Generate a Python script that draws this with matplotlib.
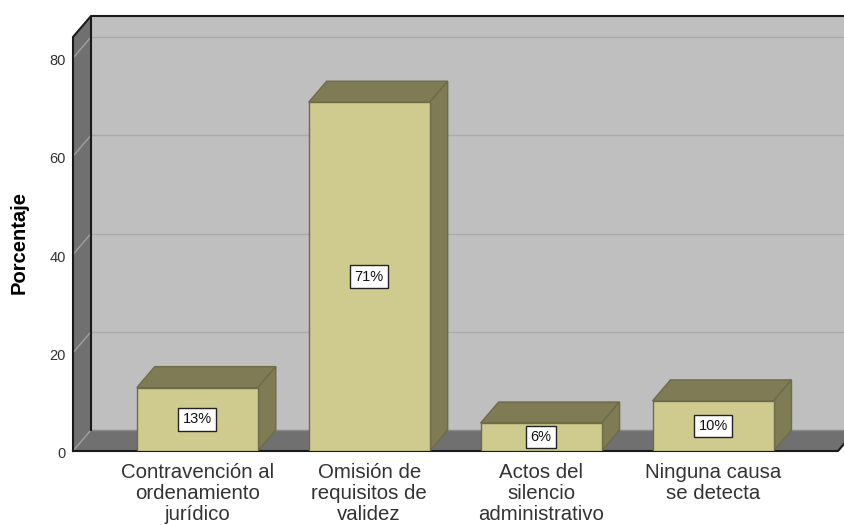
import matplotlib
matplotlib.use("Agg")
import matplotlib.pyplot as plt
from matplotlib.patches import Polygon
from matplotlib.transforms import ScaledTranslation

plt.rcParams['font.family'] = ['Liberation Sans', 'DejaVu Sans']

categories = ["Contravención al\nordenamiento\njurídico", "Omisión de\nrequisitos de\nvalidez",
              "Actos del\nsilencio\nadministrativo", "Ninguna causa\nse detecta"]
values = [12.9, 71.0, 5.7, 10.2]
value_labels = ["13%", "71%", "6%", "10%"]
yticks = [0, 20, 40, 60, 80]
ylabel = "Porcentaje"

W, H = 844, 525
fig = plt.figure(figsize=(W / 100, H / 100), dpi=100, facecolor="white")
L, R, B, T = 73, 844, 451, 16
ax = fig.add_axes([L / W, (H - B) / H, (R - L) / W, (B - T) / H])
px_y = 4.9125
px_x = 171.9
x0 = 197.3
ax.set_xlim((L - x0) / px_x, (R - x0) / px_x)
ax.set_ylim(0, (B - T) / px_y)
dx, dy = 18 / px_x, 21 / px_y
xl = ax.get_xlim()[0]
xr = (838 - x0) / px_x
ytop = (B - 37) / px_y
bw = 121 / px_x

wall, side, floor_c = "#BFBFBF", "#707070", "#707070"
front, shade, edge = "#CFCB8E", "#7F7B55", "#6E6B48"
grid = "#ABABAB"
dark = "#1A1A1A"

# back wall, left wall, floor
ax.add_patch(Polygon([(xl + dx, dy), (xr + dx, dy), (xr + dx, ytop + dy), (xl + dx, ytop + dy)],
                     fc=wall, ec="none", zorder=1))
ax.add_patch(Polygon([(xl, 0), (xl + dx, dy), (xl + dx, ytop + dy), (xl, ytop)],
                     fc=side, ec="none", zorder=1))
ax.add_patch(Polygon([(xl, 0), (xr, 0), (xr + dx, dy), (xl + dx, dy)],
                     fc=floor_c, ec="none", zorder=1))
ax.plot([xl + dx, xr + dx], [dy, dy], color="#8A8A8A", lw=1, zorder=1.5)

# gridlines
for t in yticks[1:]:
    ax.plot([xl + dx, xr + dx], [t + dy, t + dy], color=grid, lw=1, zorder=2)
    ax.plot([xl, xl + dx], [t, t + dy], color="#A0A0A0", lw=1, zorder=2)
ax.plot([xl, xl + dx], [0, dy], color="#A0A0A0", lw=1, zorder=2)

# frame lines
ax.plot([xl, xl, xl + dx, xr + dx], [0, ytop, ytop + dy, ytop + dy], color=dark, lw=1.5, zorder=3, clip_on=False)
ax.plot([xl + dx, xl + dx], [dy, ytop + dy], color=dark, lw=1.5, zorder=3)
ax.plot([xl, xr, xr + dx], [0, 0, dy], color=dark, lw=1.5, zorder=3, clip_on=False)

# bars
xs = list(range(len(values)))
ax.bar(xs, values, width=bw, color=front, edgecolor=edge, linewidth=1, zorder=5)
for x, v, lab in zip(xs, values, value_labels):
    a, b = x - bw / 2, x + bw / 2
    ax.add_patch(Polygon([(a, v), (b, v), (b + dx, v + dy), (a + dx, v + dy)], fc=shade, ec=edge, lw=1, zorder=4))
    ax.add_patch(Polygon([(b, 0), (b + dx, dy), (b + dx, v + dy), (b, v)], fc=shade, ec=edge, lw=1, zorder=4))
    ax.text(x, v / 2, lab, ha="center", va="center", fontsize=10.5, color="#111111", zorder=6,
            bbox=dict(boxstyle="square,pad=0.3", fc="white", ec="#222222", lw=1))

for s in ax.spines.values():
    s.set_visible(False)
ax.patch.set_visible(False)
ax.set_xticks(xs, categories)
ax.set_yticks(yticks)
ax.tick_params(axis="x", length=0, pad=9, labelsize=14.7, labelcolor="#333333")
ax.tick_params(axis="y", length=0, pad=5, labelsize=10.5, labelcolor="#333333")
for t in ax.get_xticklabels():
    t.set_linespacing(1.12)
shift = ScaledTranslation(0, -1.5 / 100, fig.dpi_scale_trans)
for t in ax.get_yticklabels():
    t.set_transform(t.get_transform() + shift)
ax.set_ylabel(ylabel, fontsize=14.5, fontweight="bold", color="black", labelpad=0)
ax.yaxis.set_label_coords((29 - L) / (R - L), (B - 243) / (B - T))

fig.savefig("out.png", dpi=100, facecolor="white")
